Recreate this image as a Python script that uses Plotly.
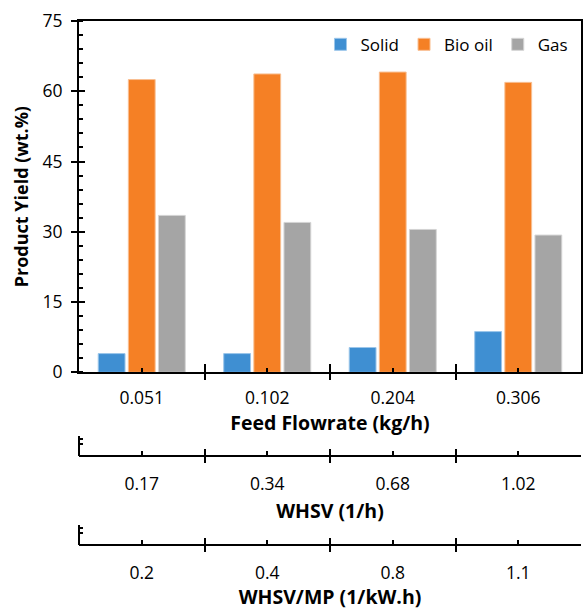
import plotly.graph_objects as go

# ---- data ----
feed_flowrate = ["0.051", "0.102", "0.204", "0.306"]
whsv = ["0.17", "0.34", "0.68", "1.02"]
whsv_mp = ["0.2", "0.4", "0.8", "1.1"]
solid = [4.0, 4.0, 5.3, 8.7]
bio_oil = [62.5, 63.7, 64.1, 61.9]
gas = [33.5, 32.0, 30.5, 29.3]

series = [("Solid", solid, "#3F8FD2", "#9cc6ea"),
          ("Bio oil", bio_oil, "#F58025", "#f9bf92"),
          ("Gas", gas, "#A5A5A5", "#d4d4d4")]

n = len(feed_flowrate)
xs = list(range(n))
centers = xs
bounds = [i - 0.5 for i in range(n + 1)]

FONT = "Open Sans"
BLACK = "#000000"

fig = go.Figure()
for name, vals, col, edge in series:
    fig.add_trace(go.Bar(x=xs, y=vals, name=name,
                         marker=dict(color=col, line=dict(color=edge, width=1))))

# invisible helper traces so that the secondary axes get drawn
for xa, ya in [("x2", "y"), ("x3", "y"), ("x4", "y"), ("x5", "y"), ("x6", "y"),
               ("x", "y2"), ("x", "y3"), ("x", "y4")]:
    fig.add_trace(go.Scatter(x=[None], y=[None], xaxis=xa, yaxis=ya, mode="markers",
                             showlegend=False, hoverinfo="skip"))

# geometry (paper fractions of plot area height 525px: y 21..546)
H = 525.0
main_bottom = (546 - 373) / H
p2 = (546 - 457) / H
p3 = 0.0

tickfont = dict(family=FONT, size=17.5, color=BLACK)
xtitlefont = dict(family=FONT, size=19.5, color=BLACK)
ytitlefont = dict(family=FONT, size=18, color=BLACK)


def label_axis(labels, title, standoff, lblstandoff, **kw):
    d = dict(range=[-0.5, n - 0.5], tickmode="array", tickvals=centers, ticktext=labels,
             ticks="inside", ticklen=4, tickwidth=2, tickcolor=BLACK,
             minor=dict(tickmode="array", tickvals=bounds, ticks="outside", ticklen=6,
                        tickwidth=2, tickcolor=BLACK),
             showline=True, linewidth=2, linecolor=BLACK, showgrid=False, zeroline=False,
             tickfont=tickfont, ticklabelstandoff=lblstandoff,
             title=dict(text="<b>" + title + "</b>", font=xtitlefont, standoff=standoff))
    d.update(kw)
    return d


def inner_ticks(**kw):
    d = dict(range=[-0.5, n - 0.5], tickmode="array", tickvals=bounds, ticks="inside",
             ticklen=8, tickwidth=2, tickcolor=BLACK, showticklabels=False,
             showline=False, showgrid=False, zeroline=False)
    d.update(kw)
    return d


def stub_axis(pos):
    return dict(domain=[pos, pos + 20 / H], anchor="free", position=0, range=[0, 1],
                tickmode="array", tickvals=[0.6, 0.85], ticks="inside", ticklen=3,
                tickwidth=2, tickcolor=BLACK, showticklabels=False,
                showline=True, linewidth=2, linecolor=BLACK, showgrid=False, zeroline=False)


fig.update_layout(
    width=585, height=610,
    margin=dict(l=79, r=2, t=21, b=64),
    paper_bgcolor="white", plot_bgcolor="white",
    barmode="group", bargap=0.28, bargroupgap=0.11,
    font=dict(family=FONT, color=BLACK),
    showlegend=True,
    legend=dict(orientation="h", x=0.985, xanchor="right", y=0.989, yanchor="top",
                font=dict(family=FONT, size=17, color=BLACK), bgcolor="rgba(0,0,0,0)",
                itemwidth=30, tracegroupgap=0),
    xaxis=label_axis(feed_flowrate, "Feed Flowrate (kg/h)", 0, 9, anchor="y", mirror=True),
    xaxis4=inner_ticks(overlaying="x", anchor="y"),
    xaxis2=label_axis(whsv, "WHSV (1/h)", 9, 12, overlaying="x", anchor="free", position=p2),
    xaxis5=inner_ticks(overlaying="x", anchor="free", position=p2, ticklen=7),
    xaxis3=label_axis(whsv_mp, "WHSV/MP (1/kW.h)", 10, 12, overlaying="x", anchor="free",
                      position=p3),
    xaxis6=inner_ticks(overlaying="x", anchor="free", position=p3, ticklen=7),
    yaxis=dict(domain=[main_bottom, 1], range=[0, 75], tickmode="linear", tick0=0, dtick=15,
               ticks="outside", ticklen=6, tickwidth=2, tickcolor=BLACK,
               minor=dict(tickmode="linear", tick0=0, dtick=3, ticks="inside", ticklen=4,
                          tickwidth=2, tickcolor=BLACK),
               showline=True, linewidth=2, linecolor=BLACK, mirror=True,
               showgrid=False, zeroline=False, tickfont=tickfont, ticklabelstandoff=5,
               title=dict(text="<b>Product Yield (wt.%)</b>", font=ytitlefont, standoff=9)),
    yaxis4=dict(overlaying="y", range=[0, 75], tickmode="linear", tick0=0, dtick=15,
                ticks="inside", ticklen=6, tickwidth=2, tickcolor=BLACK,
                showticklabels=False, showline=False, showgrid=False, zeroline=False),
    yaxis2=stub_axis(p2),
    yaxis3=stub_axis(p3),
)

fig.write_html("out.html", config={"displayModeBar": False},
               post_script="document.body.style.margin='0';")
